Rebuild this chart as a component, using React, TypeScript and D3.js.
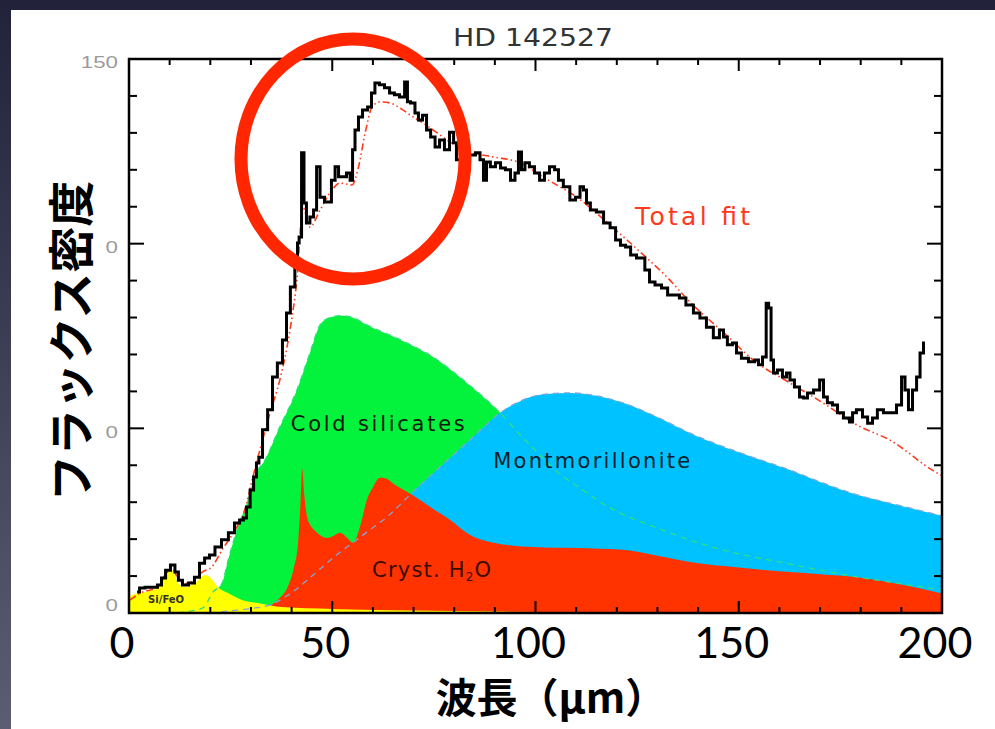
import React from 'react';
import * as d3 from 'd3';

// canvas + plot frame
const W = 995;
const H = 729;
const frame = { left: 129, right: 942, top: 59, bottom: 613 };

// axis ticks
const xTickLabels = [0, 50, 100, 150, 200];
const yTickLabels = [0, 50, 100, 150];

// observed spectrum, [wavelength µm, flux]
const observed: [number, number][] = [
  [2.0,5.7],[3.2,6.8],[4.7,7.0],[6.4,7.0],[7.6,7.6],[8.4,9.5],[9.6,11.6],[10.8,13.0],[11.8,11.1],[12.5,8.9],
  [13.8,7.6],[15.5,8.1],[16.7,9.7],[18.0,13.5],[19.2,14.9],[20.4,15.7],[21.9,17.9],[23.6,19.8],[25.3,21.7],[26.6,24.4],
  [27.8,25.2],[28.5,25.7],[29.3,28.7],[30.3,33.3],[31.0,36.8],[31.7,40.6],[32.2,42.2],[33.5,49.6],[34.7,55.0],[35.9,63.9],
  [37.1,67.7],[38.4,73.9],[39.1,81.2],[40.3,88.3],[41.3,94.8],[41.6,100.2],[42.1,101.8],[42.8,124.6],[43.3,111.0],[44.0,105.6],
  [45.0,107.2],[45.8,109.1],[46.5,120.8],[47.5,112.6],[48.7,111.3],[49.4,111.3],[50.2,117.2],[51.2,120.8],[51.9,118.1],[53.1,118.1],
  [53.9,119.1],[54.9,117.2],[55.1,125.4],[56.1,130.8],[56.8,134.3],[58.1,136.2],[59.3,137.0],[60.0,140.8],[61.0,143.5],[62.2,143.0],
  [63.5,142.2],[64.7,140.8],[65.9,140.3],[67.2,139.7],[68.4,143.8],[68.6,138.4],[69.9,138.1],[70.8,135.4],[71.6,133.5],[72.8,134.8],
  [73.6,130.8],[74.8,128.9],[75.8,126.2],[77.0,128.1],[78.2,125.4],[79.5,130.2],[80.2,127.3],[80.9,122.7],[82.7,123.2],[84.6,124.0],
  [85.9,124.6],[86.8,122.7],[87.6,117.2],[88.3,122.1],[89.5,120.8],[90.8,121.9],[92.0,120.5],[93.2,120.0],[94.5,117.2],[95.4,119.1],
  [96.2,124.8],[96.9,120.0],[97.9,121.9],[99.1,120.8],[100.4,119.1],[101.6,117.2],[102.8,119.1],[104.1,120.8],[105.3,120.0],[106.0,117.2],
  [107.7,115.4],[109.2,111.8],[110.5,112.6],[111.4,115.4],[112.2,114.5],[112.9,111.0],[114.1,109.1],[115.9,108.6],[117.6,105.6],[119.1,104.3],
  [120.3,101.0],[121.5,99.6],[122.8,99.1],[124.0,96.9],[125.7,96.1],[126.4,96.1],[127.4,92.9],[128.7,89.6],[130.1,88.8],[131.9,88.0],
  [133.1,86.1],[134.8,86.1],[136.0,85.3],[138.0,83.4],[139.7,81.2],[141.2,79.9],[142.9,77.4],[144.6,74.5],[145.9,76.6],[146.6,74.7],
  [147.8,72.6],[149.1,73.1],[149.8,70.4],[151.5,69.0],[153.3,68.0],[154.5,68.5],[155.2,67.2],[156.5,69.3],[157.0,83.9],[157.7,82.6],
  [158.2,68.5],[158.9,65.0],[160.1,65.8],[161.4,63.9],[162.1,65.0],[163.1,63.1],[164.3,61.2],[165.6,58.5],[166.3,58.2],[167.5,59.6],
  [169.3,60.4],[170.5,63.1],[171.2,58.5],[172.4,56.9],[173.7,56.3],[174.9,54.2],[176.6,52.8],[177.9,51.7],[178.1,54.2],[179.8,55.0],
  [181.1,53.1],[182.3,51.4],[183.5,52.8],[184.7,55.0],[186.5,54.2],[187.9,54.2],[189.7,56.3],[190.4,63.9],[191.4,60.4],[192.1,55.0],
  [193.4,60.4],[194.1,63.9],[195.1,70.4],[195.8,73.1],
];

// model sum
const totalFit: [number, number][] = [
  [0.2,3.5],[3,5.5],[7,7],[9,10.5],[10.6,12],[12.5,8.5],[14,8],[16,8.8],[18,11.1],[20.4,12.5],[22.9,17.1],[26.1,22.5],
  [28.5,27.9],[30.3,36.0],[34.7,54.2],[37.1,63.1],[39.6,76.6],[41.3,90.2],[42.8,109.9],[44.5,104.5],[47.0,109.1],
  [49.4,113.7],[51.9,116.4],[54.9,115.9],[56.3,120.0],[58.1,130.0],[59.8,137.0],[61.7,138.4],[64.2,138.1],[66.7,136.7],
  [69.9,134.3],[72.3,132.7],[75.8,130.0],[79.0,127.5],[83.9,124.8],[89.5,123.5],[96.2,121.9],[101.8,118.1],[106.0,115.4],
  [110.2,112.6],[114.1,109.1],[118.3,105.1],[122.5,101.0],[127.4,96.1],[132.3,91.0],[138.0,84.2],[146.1,76.1],[154.5,67.7],
  [162.6,62.3],[170.7,56.9],[179.1,50.9],[187.2,46.8],[198.8,37.9],[200,37.2],
];

// components
const coldSilicates: [number, number][] = [
  [12,0],[15,0.5],[18.2,1.4],[20.7,5.7],[22.9,8.1],[24.4,14.4],[26.8,23.3],[29.3,30.6],[31.7,38.7],[33,40.6],
  [37.1,50.4],[41.3,60.4],[44.5,70.4],[47,78],[49.4,80],[52,80.5],[55,80],[58.5,78],[66.7,74],[74.8,69.3],
  [83.1,62.3],[91.3,54.2],[96,48.5],[100,44],[105,38.5],[110,34.5],[120,27.5],[130,23],[140,19],[150,16],
  [160,13.8],[170,11.6],[180,9.6],[190,7.9],[200,6.2],
];

const montmorillonite: [number, number][] = [
  [20,0],[25,0.6],[30,1.2],[34.7,2.2],[40,5.5],[45,10],[50.2,14.9],[58.5,21.9],[64,26.5],[69.1,32],
  [75,38],[80,43],[85,48],[91.3,54.2],[96.9,57.7],[102,59.2],[108.5,59.6],[115,58.8],[121.5,56.9],[130,53],
  [138,48.7],[150,43.5],[162.6,38.7],[170,35.5],[179.1,32],[190,29],[200,26.3],
];

const crystH2O: [number, number][] = [
  [25,0],[30,0.8],[34,1.6],[37,4],[39,7],[40.5,12],[41.6,19],[42.2,30],[42.6,39],[43.1,32],[43.8,26],[44.5,24],
  [46,22],[48.7,20.3],[50.5,21],[51.9,21.7],[53.5,20.5],[55.1,19],[57,24],[58.5,30.6],[60,34],[61.7,36.6],[63,36.5],
  [65.4,34.7],[68,33],[71.6,30.6],[75,28],[79,25.2],[83.9,21.1],[88.8,19.2],[94,18.3],[99.4,17.9],[110,17.6],
  [121.5,17.1],[130,15.5],[138,13.8],[150,12.3],[162.6,11.1],[170,10.5],[179.1,9.7],[190,7.7],[200,5.3],
];

const siFeO: [number, number][] = [
  [0,4],[0.7,4.9],[3.9,5.7],[7.1,6.8],[8.9,10.3],[10.6,11.6],[12.1,8.1],[13.8,7.0],[16.2,8.1],[18.7,10.3],
  [19.9,9.7],[21.9,7.0],[24.4,5.4],[27.8,3.5],[31.7,2.7],[37.6,1.6],[50,1.1],[70,0.7],[90,0.4],[110,0.2],[130,0],[200,0],
];

const colors = {
  green: '#03f23c',
  blue: '#00c2ff',
  red: '#ff3300',
  yellow: '#ffff00',
  fit: '#ff3a1c',
  ring: '#ff2600',
};

const jp = '"Noto Sans CJK JP", sans-serif';
const label = '"DejaVu Sans", sans-serif';

export default function App() {
  const x = d3.scaleLinear().domain([0, 200]).range([frame.left, frame.right]);
  const y = d3.scaleLinear().domain([0, 150]).range([frame.bottom, frame.top]);

  const area = d3.area<[number, number]>()
    .x(d => x(d[0])).y0(y(0)).y1(d => y(d[1]))
    .curve(d3.curveMonotoneX);
  const smooth = d3.line<[number, number]>()
    .x(d => x(d[0])).y(d => y(d[1]))
    .curve(d3.curveMonotoneX);
  // the spectrum is plotted histogram-style
  const steps = d3.line<[number, number]>()
    .x(d => x(d[0])).y(d => y(d[1]))
    .curve(d3.curveStep);

  const xMinor = d3.range(0, 201, 10);
  const yMinor = d3.range(0, 151, 10);

  return (
    <svg width={W} height={H} style={{ position: 'absolute', left: 0, top: 0 }}>
      <defs>
        <linearGradient id="bg" x1="0" y1="0" x2="0" y2="1">
          <stop offset="0" stopColor="#22233a" />
          <stop offset="1" stopColor="#5c5c72" />
        </linearGradient>
        <clipPath id="plot">
          <rect x={frame.left} y={frame.top} width={frame.right - frame.left} height={frame.bottom - frame.top} />
        </clipPath>
      </defs>
      <rect width={W} height={H} fill="url(#bg)" />
      <rect x={11} y={10} width={W - 11} height={H - 10} fill="#fff" />

      <text x={533} y={46} textAnchor="middle" fontFamily={label} fontSize={24}
        fill="#333" textLength={160} lengthAdjust="spacingAndGlyphs">HD 142527</text>

      <g clipPath="url(#plot)">
        <path d={area(coldSilicates)!} fill={colors.green} />
        <path d={area(montmorillonite)!} fill={colors.blue} />
        <path d={area(crystH2O)!} fill={colors.red} />
        <path d={area(siFeO)!} fill={colors.yellow} />
        <path d={smooth(coldSilicates)!} fill="none" stroke="#2fe07e" strokeWidth={1.3} strokeDasharray="6,5" />
        <path d={smooth(montmorillonite)!} fill="none" stroke="#7ea6d6" strokeWidth={1.3} strokeDasharray="6,5" />
        <path d={smooth(totalFit)!} fill="none" stroke={colors.fit} strokeWidth={1.6}
          strokeDasharray="7,3,1.5,3,1.5,3" />
        <path d={steps(observed)!} fill="none" stroke="#000" strokeWidth={3} strokeLinejoin="miter" />
      </g>

      {/* component labels */}
      <text x={x(39.8)} y={y(49.4)} fontFamily={label} fontSize={21} fill="#0c1a0c"
        textLength={174} lengthAdjust="spacing">Cold silicates</text>
      <text x={x(89.6)} y={y(39.3)} fontFamily={label} fontSize={21} fill="#07202c"
        textLength={197} lengthAdjust="spacing">Montmorillonite</text>
      <text x={x(59.8)} y={y(9.8)} fontFamily={label} fontSize={21} fill="#3a0c00" letterSpacing={1.2}>
        Cryst. H<tspan fontSize={12} dy={4}>2</tspan><tspan dy={-4}>O</tspan>
      </text>
      <text x={x(4.7)} y={y(2.7)} fontFamily={label} fontSize={10} fill="#333" fontWeight="bold">Si/FeO</text>
      <text x={x(124.5)} y={y(105)} fontFamily={label} fontSize={25} fill={colors.fit}
        textLength={115} lengthAdjust="spacing">Total fit</text>

      {/* frame + ticks */}
      <rect x={frame.left} y={frame.top} width={frame.right - frame.left} height={frame.bottom - frame.top}
        fill="none" stroke="#000" strokeWidth={2.5} />
      {xMinor.map(v => {
        const len = v % 50 === 0 ? 12 : 6;
        return (
          <g key={'x' + v} stroke="#000" strokeWidth={2}>
            <line x1={x(v)} x2={x(v)} y1={frame.bottom} y2={frame.bottom - len} />
            <line x1={x(v)} x2={x(v)} y1={frame.top} y2={frame.top + len} />
          </g>
        );
      })}
      {yMinor.map(v => {
        const len = v % 50 === 0 ? 15 : 8;
        return (
          <g key={'y' + v} stroke="#000" strokeWidth={2}>
            <line x1={frame.left} x2={frame.left + len} y1={y(v)} y2={y(v)} />
            <line x1={frame.right} x2={frame.right - len} y1={y(v)} y2={y(v)} />
          </g>
        );
      })}

      {yTickLabels.map(v => (
        <text key={'yl' + v} x={118} y={y(v) + (v === 0 ? -6 : 5)} textAnchor="end" dominantBaseline="middle"
          fontFamily='"Liberation Sans", sans-serif' fontSize={16} fill="#9a9a9a"
          textLength={String(v).length * 12.4} lengthAdjust="spacingAndGlyphs">{v}</text>
      ))}
      {xTickLabels.map(v => (
        <text key={'xl' + v} x={x(v) - 7} y={658} textAnchor="middle"
          fontFamily="Lato, sans-serif" fontSize={43} fill="#000">{v}</text>
      ))}

      {/* y title sits on a white panel that hides the leading digits */}
      <rect x={11} y={172} width={95} height={340} fill="#fff" />
      <text transform={`translate(68,341) rotate(-90)`} textAnchor="middle" dominantBaseline="central"
        fontFamily={jp} fontWeight="bold" fontSize={46} fill="#000">フラックス密度</text>
      <text x={551} y={713} textAnchor="middle" fontFamily={jp} fontWeight="bold" fontSize={41}
        fill="#000">波長（μm）</text>

      <ellipse cx={353} cy={159} rx={112} ry={120} fill="none" stroke={colors.ring} strokeWidth={13} />
    </svg>
  );
}
